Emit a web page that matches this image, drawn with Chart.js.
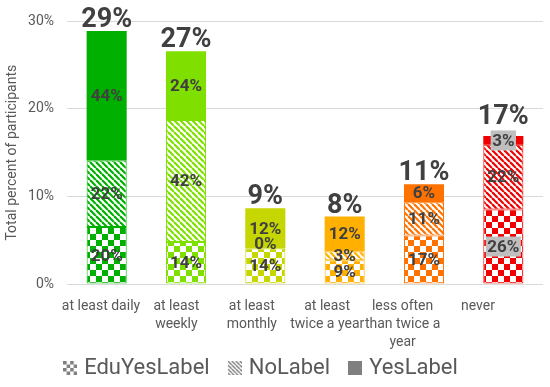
<!DOCTYPE html>
<html>
<head>
<meta charset="utf-8">
<script src="https://cdn.jsdelivr.net/npm/chart.js@4.4.1/dist/chart.umd.min.js"></script>
<style>
  html, body { margin: 0; padding: 0; background: #fff; }
  #wrap { width: 550px; height: 387px; position: relative; }
</style>
</head>
<body>
<div id="wrap"><canvas id="chart"></canvas></div>
<script>
// categories (multi-line x labels)
const categories = [
  ['at least daily'],
  ['at least', 'weekly'],
  ['at least', 'monthly'],
  ['at least', 'twice a year'],
  ['less often', 'than twice a', 'year'],
  ['never']
];

// share of all participants (%)
const eduYesLabel = [6.5, 4.8, 4.05, 2.7, 5.55, 8.5];
const noLabel     = [7.6, 13.95, 0, 1.0, 3.8, 7.4];
const yesLabel    = [14.8, 7.85, 4.6, 4.0, 2.05, 1.0];

// percentages printed inside the segments
const eduYesPct = [20, 14, 14, 9, 17, 26];
const noPct     = [22, 42, 0, 3, 11, 22];
const yesPct    = [44, 24, 12, 12, 6, 3];

// totals printed above the bars
const totals = [29, 27, 9, 8, 11, 17];

const yTicks = [0, 10, 20, 30];

// one colour per category
const barColors = ['#00B000', '#7FE000', '#C5D600', '#FFB000', '#FF7200', '#F00000'];

const FONT = 'Roboto';
const textGrey = '#595959';
const labelGrey = '#404040';

function makeChecker(color, sq) {
  const c = document.createElement('canvas');
  c.width = sq * 2; c.height = sq * 2;
  const g = c.getContext('2d');
  g.fillStyle = '#fff';
  g.fillRect(0, 0, c.width, c.height);
  g.fillStyle = color;
  g.fillRect(0, 0, sq, sq);
  g.fillRect(sq, sq, sq, sq);
  return g.createPattern(c, 'repeat');
}

function makeStripes(color, size, lw) {
  const c = document.createElement('canvas');
  c.width = size; c.height = size;
  const g = c.getContext('2d');
  g.fillStyle = '#fff';
  g.fillRect(0, 0, size, size);
  g.strokeStyle = color;
  g.lineWidth = lw;
  // "\" direction, drawn with wrap-around
  [-size, 0, size].forEach(off => {
    g.beginPath();
    g.moveTo(off, 0);
    g.lineTo(off + size, size);
    g.stroke();
  });
  return g.createPattern(c, 'repeat');
}

// small 14x14 legend icons
function makeIcon(fill) {
  const c = document.createElement('canvas');
  c.width = 14; c.height = 14;
  const g = c.getContext('2d');
  g.fillStyle = fill;
  g.fillRect(0, 0, 14, 14);
  return c;
}

const ctx = document.getElementById('chart').getContext('2d');

const checkerFills = barColors.map(c => makeChecker(c, 6));
const stripeFills = barColors.map(c => makeStripes(c, 6, 2.2));

const legendIcons = [
  makeIcon(makeChecker('#7F7F7F', 3.5)),
  makeIcon(makeStripes('#7F7F7F', 4, 1.4)),
  makeIcon('#7F7F7F')
];

const segmentLabels = {
  id: 'segmentLabels',
  afterDatasetsDraw(chart) {
    const c = chart.ctx;
    const pcts = [eduYesPct, noPct, yesPct];
    c.save();
    c.textAlign = 'center';
    c.textBaseline = 'middle';
    c.font = 'bold 17px ' + FONT;
    pcts.forEach((arr, i) => {
      chart.getDatasetMeta(i).data.forEach((bar, j) => {
        let y = (bar.y + bar.base) / 2;
        if (Math.abs(bar.base - bar.y) < 1) y -= 5;
        const txt = arr[j] + '%';
        // the "never" bar has grey boxes behind two of its labels
        if (j === 5 && i !== 1) {
          const w = c.measureText(txt).width + 3;
          c.fillStyle = '#BFBFBF';
          c.fillRect(bar.x - w / 2, y - 10, w, 20);
        }
        c.fillStyle = labelGrey;
        c.fillText(txt, bar.x, y + 1);
      });
    });
    c.font = 'bold 27px ' + FONT;
    c.textBaseline = 'alphabetic';
    chart.getDatasetMeta(2).data.forEach((bar, j) => {
      const lift = j === 5 ? 12 : 4;
      c.fillStyle = labelGrey;
      c.fillText(totals[j] + '%', bar.x, bar.y - lift);
    });
    c.restore();
  }
};

const shiftLegend = {
  id: 'shiftLegend',
  afterLayout(chart) {
    chart.legend.left -= 10;
    chart.legend.right -= 10;
  }
};

new Chart(ctx, {
  type: 'bar',
  data: {
    labels: categories,
    datasets: [
      {
        label: 'EduYesLabel',
        data: eduYesLabel,
        backgroundColor: checkerFills,
        borderColor: barColors,
        borderWidth: 1,
        borderSkipped: false
      },
      {
        label: 'NoLabel',
        data: noLabel,
        backgroundColor: stripeFills,
        borderColor: barColors,
        borderWidth: 1,
        borderSkipped: false
      },
      {
        label: 'YesLabel',
        data: yesLabel,
        backgroundColor: barColors,
        borderWidth: 0
      }
    ]
  },
  options: {
    responsive: true,
    maintainAspectRatio: false,
    animation: false,
    datasets: {
      bar: { barPercentage: 1, categoryPercentage: 0.505 }
    },
    layout: {
      padding: { left: 2, right: 7, top: 17, bottom: 0 }
    },
    scales: {
      x: {
        stacked: true,
        grid: { display: false },
        border: { display: false },
        ticks: { display: false },
        afterFit(scale) {
          scale.height = 0;
        }
      },
      // category names sit on a slightly narrower spacing than the bars
      xLabels: {
        type: 'linear',
        position: 'bottom',
        offset: false,
        min: -0.451,
        max: 5.862,
        afterBuildTicks(scale) {
          scale.ticks = categories.map((_, i) => ({ value: i }));
        },
        afterFit(scale) {
          scale.height = 51;
          scale.paddingLeft = 0;
          scale.paddingRight = 0;
          scale._computeLabelArea = () => undefined;
        },
        grid: { display: false, offset: false },
        border: { display: false },
        ticks: {
          color: textGrey,
          padding: 5,
          maxRotation: 0,
          autoSkip: false,
          align: 'center',
          font: { family: FONT, size: 14, lineHeight: 1.3 },
          callback: v => categories[v]
        }
      },
      y: {
        stacked: true,
        min: 0,
        max: 30,
        afterBuildTicks(scale) {
          scale.ticks = yTicks.map(v => ({ value: v }));
        },
        afterFit(scale) {
          scale.width = 65;
        },
        grid: { color: '#D9D9D9', drawTicks: false, lineWidth: 1 },
        border: { display: false },
        ticks: {
          color: textGrey,
          padding: 13,
          font: { family: FONT, size: 14 },
          callback: v => v + '%'
        },
        title: {
          display: true,
          text: 'Total percent of participants',
          color: textGrey,
          padding: { top: 2, bottom: 4 },
          font: { family: FONT, size: 14 }
        }
      }
    },
    plugins: {
      legend: {
        position: 'bottom',
        maxHeight: 52,
        labels: {
          color: textGrey,
          usePointStyle: true,
          pointStyleWidth: 6,
          padding: 22,
          font: { family: FONT, size: 22 },
          generateLabels(chart) {
            return chart.data.datasets.map((ds, i) => ({
              text: ds.label,
              pointStyle: legendIcons[i],
              fillStyle: '#7F7F7F',
              strokeStyle: 'rgba(0,0,0,0)',
              lineWidth: 0,
              fontColor: textGrey,
              datasetIndex: i,
              hidden: false
            }));
          }
        }
      },
      tooltip: { enabled: false }
    }
  },
  plugins: [segmentLabels, shiftLegend]
});
</script>
</body>
</html>
